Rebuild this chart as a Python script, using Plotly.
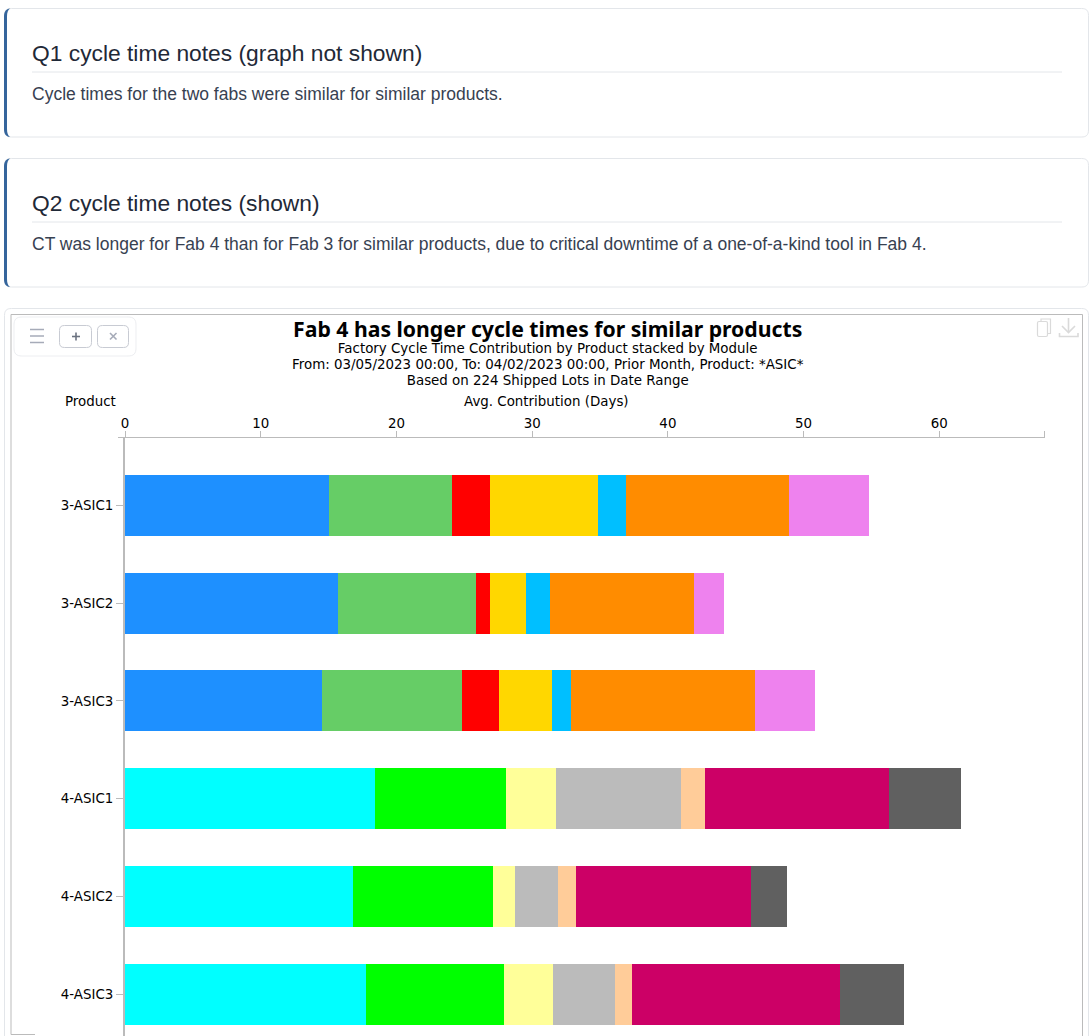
import plotly.graph_objects as go

W, H = 1090, 1036

fab3_products = ["3-ASIC1", "3-ASIC2", "3-ASIC3"]
fab4_products = ["4-ASIC1", "4-ASIC2", "4-ASIC3"]
products = fab3_products + fab4_products

fab3_m1 = [15.03, 15.73, 14.55]
fab3_m2 = [9.06, 10.13, 10.31]
fab3_m3 = [2.84, 1.03, 2.73]
fab3_m4 = [7.92, 2.65, 3.87]
fab3_m5 = [2.06, 1.81, 1.43]
fab3_m6 = [12.01, 10.60, 13.52]
fab3_m7 = [5.89, 2.18, 4.42]

fab4_m1 = [18.45, 16.83, 17.75]
fab4_m2 = [9.62, 10.28, 10.17]
fab4_m3 = [3.68, 1.62, 3.61]
fab4_m4 = [9.21, 3.21, 4.57]
fab4_m5 = [1.77, 1.28, 1.25]
fab4_m6 = [13.55, 12.90, 15.36]
fab4_m7 = [5.31, 2.65, 4.68]

fab3_colors = ["#1E90FF", "#66CD66", "#FF0000", "#FFD700", "#00BFFF", "#FF8C00", "#EE82EE"]
fab4_colors = ["#00FFFF", "#00FF00", "#FFFF99", "#BBBBBB", "#FFCC99", "#CC0066", "#606060"]

x_ticks = [0, 10, 20, 30, 40, 50, 60]

title = "Fab 4 has longer cycle times for similar products"
subtitle_lines = [
    "Factory Cycle Time Contribution by Product stacked by Module",
    "From: 03/05/2023 00:00, To: 04/02/2023 00:00, Prior Month, Product: *ASIC*",
    "Based on 224 Shipped Lots in Date Range",
]
notes = [
    ("Q1 cycle time notes (graph not shown)", "Cycle times for the two fabs were similar for similar products."),
    ("Q2 cycle time notes (shown)", "CT was longer for Fab 4 than for Fab 3 for similar products, due to critical downtime of a one-of-a-kind tool in Fab 4."),
]

CHART_FONT = "DejaVu Sans"
CHART_SIZE = 13.4
AXIS = "#BBBBBB"


def px(x):
    return x / W


def py(y):
    return 1 - y / H


def pth(*pts):
    out = []
    for item in pts:
        if isinstance(item, str):
            out.append(item)
        else:
            out.append(f"{px(item[0]):.5f},{py(item[1]):.5f}")
    return " ".join(out)


def rrect(x0, y0, x1, y1, r):
    k = r * 0.3
    return (
        f"M {pth((x0 + r, y0))} L {pth((x1 - r, y0))} C {pth((x1 - k, y0), (x1, y0 + k), (x1, y0 + r))} "
        f"L {pth((x1, y1 - r))} C {pth((x1, y1 - k), (x1 - k, y1), (x1 - r, y1))} "
        f"L {pth((x0 + r, y1))} C {pth((x0 + k, y1), (x0, y1 - k), (x0, y1 - r))} "
        f"L {pth((x0, y0 + r))} C {pth((x0, y0 + k), (x0 + k, y0), (x0 + r, y0))} Z"
    )


shapes = []


def add_path(d, line=None, lw=1, fill=None, layer="below"):
    shapes.append(dict(
        type="path", path=d, xref="paper", yref="paper", layer=layer,
        line=dict(color=line or "rgba(0,0,0,0)", width=lw if line else 0),
        fillcolor=fill or "rgba(0,0,0,0)",
    ))


def add_line(x0, y0, x1, y1, color, lw=1, layer="below"):
    shapes.append(dict(
        type="line", xref="paper", yref="paper", layer=layer,
        x0=px(x0), x1=px(x1), y0=py(y0), y1=py(y1),
        line=dict(color=color, width=lw),
    ))


annotations = []


def add_text(text, x, y, size, color="#000000", family=CHART_FONT, anchor="center"):
    annotations.append(dict(
        text=text,
        x=px(x), y=py(y), xref="paper", yref="paper",
        xanchor=anchor, yanchor="middle", showarrow=False,
        font=dict(size=size, color=color, family=family),
    ))


# Note cards
for (head, body), top in zip(notes, [8.5, 158.5]):
    bottom = top + 128.5
    add_path(rrect(4.5, top, 1088.5, bottom, 7), line="#E3E6EA", fill="#FFFFFF")
    add_path(
        f"M {pth((10, top))} C {pth((6, top + 0.5), (4, top + 3), (4, top + 8))} L {pth((4, bottom - 8))} "
        f"C {pth((4, bottom - 3), (6, bottom - 0.5), (10, bottom))} "
        f"C {pth((8, bottom - 1.5), (7, bottom - 4), (7, bottom - 8))} L {pth((7, top + 8))} "
        f"C {pth((7, top + 4), (8, top + 1.5), (10, top))} Z",
        fill="#35659C",
    )
    add_line(32, top + 63.5, 1062, top + 63.5, "#E3E6EA")
    add_text(head, 30, top + 44.8, 22.8, color="#1F2937", family="Liberation Sans", anchor="left")
    add_text(body, 30, top + 85.8, 17.5, color="#374151", family="Liberation Sans", anchor="left")

# Chart card
add_path(rrect(4.5, 308.5, 1088.5, 1050, 7), line="#E3E6EA", fill="#FFFFFF")
add_line(11, 314.5, 1082.5, 314.5, AXIS)
add_line(11, 314.5, 11, 1034.5, AXIS)
add_line(1082.5, 314.5, 1082.5, 1036, AXIS)
add_line(11, 1034.5, 35, 1034.5, AXIS)

# Axis extras
add_line(118, 437.5, 125, 437.5, AXIS, layer="above")
add_line(1044.5, 431, 1044.5, 437.5, AXIS, layer="above")

# Toolbar
add_path(rrect(14, 317, 136, 356, 8), line="#EDEEF1", fill="#FFFFFF", layer="above")
for y in (329.5, 336, 342.5):
    add_line(30, y, 44, y, "#A6ABB8", 1.5, layer="above")
add_path(rrect(59.5, 325.5, 91.5, 347.5, 5), line="#C8CBD3", fill="#FFFFFF", layer="above")
add_path(rrect(97.5, 325.5, 128.5, 347.5, 5), line="#C8CBD3", fill="#FFFFFF", layer="above")
add_line(72, 336.5, 80, 336.5, "#6B7280", 1.6, layer="above")
add_line(76, 332.5, 76, 340.5, "#6B7280", 1.6, layer="above")
add_line(110, 333, 116.5, 339.5, "#A6ABB8", 1.6, layer="above")
add_line(116.5, 333, 110, 339.5, "#A6ABB8", 1.6, layer="above")

# Copy and download icons
add_path(rrect(1037.5, 321.5, 1047.5, 336.5, 1.5), line="#DADADA", lw=1.2, fill="#FFFFFF", layer="above")
add_path(f"M {pth((1041, 321.5))} L {pth((1041, 319))} L {pth((1050.5, 319))} L {pth((1050.5, 333.5))} L {pth((1047.5, 333.5))}",
         line="#DADADA", lw=1.2, layer="above")
add_line(1068.5, 318, 1068.5, 332, "#DADADA", 1.6, layer="above")
add_path(f"M {pth((1062, 326))} L {pth((1068.5, 332.5))} L {pth((1075, 326))}", line="#DADADA", lw=1.6, layer="above")
add_path(f"M {pth((1059.5, 333))} L {pth((1059.5, 336.5))} L {pth((1078, 336.5))} L {pth((1078, 333))}",
         line="#DADADA", lw=1.6, layer="above")

# Chart texts
title_span = f"<span style='font-family:Noto Sans;font-size:21.2px;font-weight:bold'>{title}</span>"
sub_spans = [f"<span style='font-size:{CHART_SIZE}px'>{line}</span>" for line in subtitle_lines]
add_text("<br>".join([title_span] + sub_spans), 547.5, 350.7, 12.4)
add_text("Product", 90, 401, CHART_SIZE)
add_text("Avg. Contribution (Days)", 547, 401, CHART_SIZE)

fig = go.Figure()
fab3_series = [fab3_m1, fab3_m2, fab3_m3, fab3_m4, fab3_m5, fab3_m6, fab3_m7]
fab4_series = [fab4_m1, fab4_m2, fab4_m3, fab4_m4, fab4_m5, fab4_m6, fab4_m7]
for i, (vals, col) in enumerate(zip(fab3_series, fab3_colors)):
    fig.add_trace(go.Bar(y=fab3_products, x=vals, orientation="h", name=f"Fab 3 module {i + 1}",
                         marker=dict(color=col, line=dict(width=0))))
for i, (vals, col) in enumerate(zip(fab4_series, fab4_colors)):
    fig.add_trace(go.Bar(y=fab4_products, x=vals, orientation="h", name=f"Fab 4 module {i + 1}",
                         marker=dict(color=col, line=dict(width=0))))

fig.update_layout(
    width=W, height=H,
    margin=dict(l=0, r=0, t=0, b=0, autoexpand=False),
    paper_bgcolor="#FFFFFF", plot_bgcolor="rgba(0,0,0,0)",
    barmode="stack", bargap=0.375, showlegend=False,
    font=dict(family=CHART_FONT, size=CHART_SIZE, color="#000000"),
    shapes=shapes, annotations=annotations,
    xaxis=dict(
        domain=[125 / W, 1044.5 / W], range=[0, 67.75], side="top",
        tickmode="array", tickvals=x_ticks, ticks="outside", ticklen=6, tickcolor=AXIS, tickwidth=1,
        showline=True, linecolor=AXIS, linewidth=1, showgrid=False, zeroline=False,
        tickfont=dict(size=CHART_SIZE, family=CHART_FONT, color="#000000"), anchor="y",
        ticklabelstandoff=-2,
    ),
    yaxis=dict(
        domain=[0, 1 - 438 / H], range=[5.428, -0.69],
        type="category", categoryorder="array", categoryarray=products,
        ticks="outside", ticklen=7, tickcolor=AXIS, tickwidth=1,
        showline=True, linecolor=AXIS, linewidth=2, showgrid=False, zeroline=False,
        tickfont=dict(size=CHART_SIZE, family=CHART_FONT, color="#000000"), anchor="x",
    ),
)

fig.write_html(
    "out.html",
    config=dict(displayModeBar=False),
    post_script="document.body.style.margin='0';document.documentElement.style.overflow='hidden';",
)
